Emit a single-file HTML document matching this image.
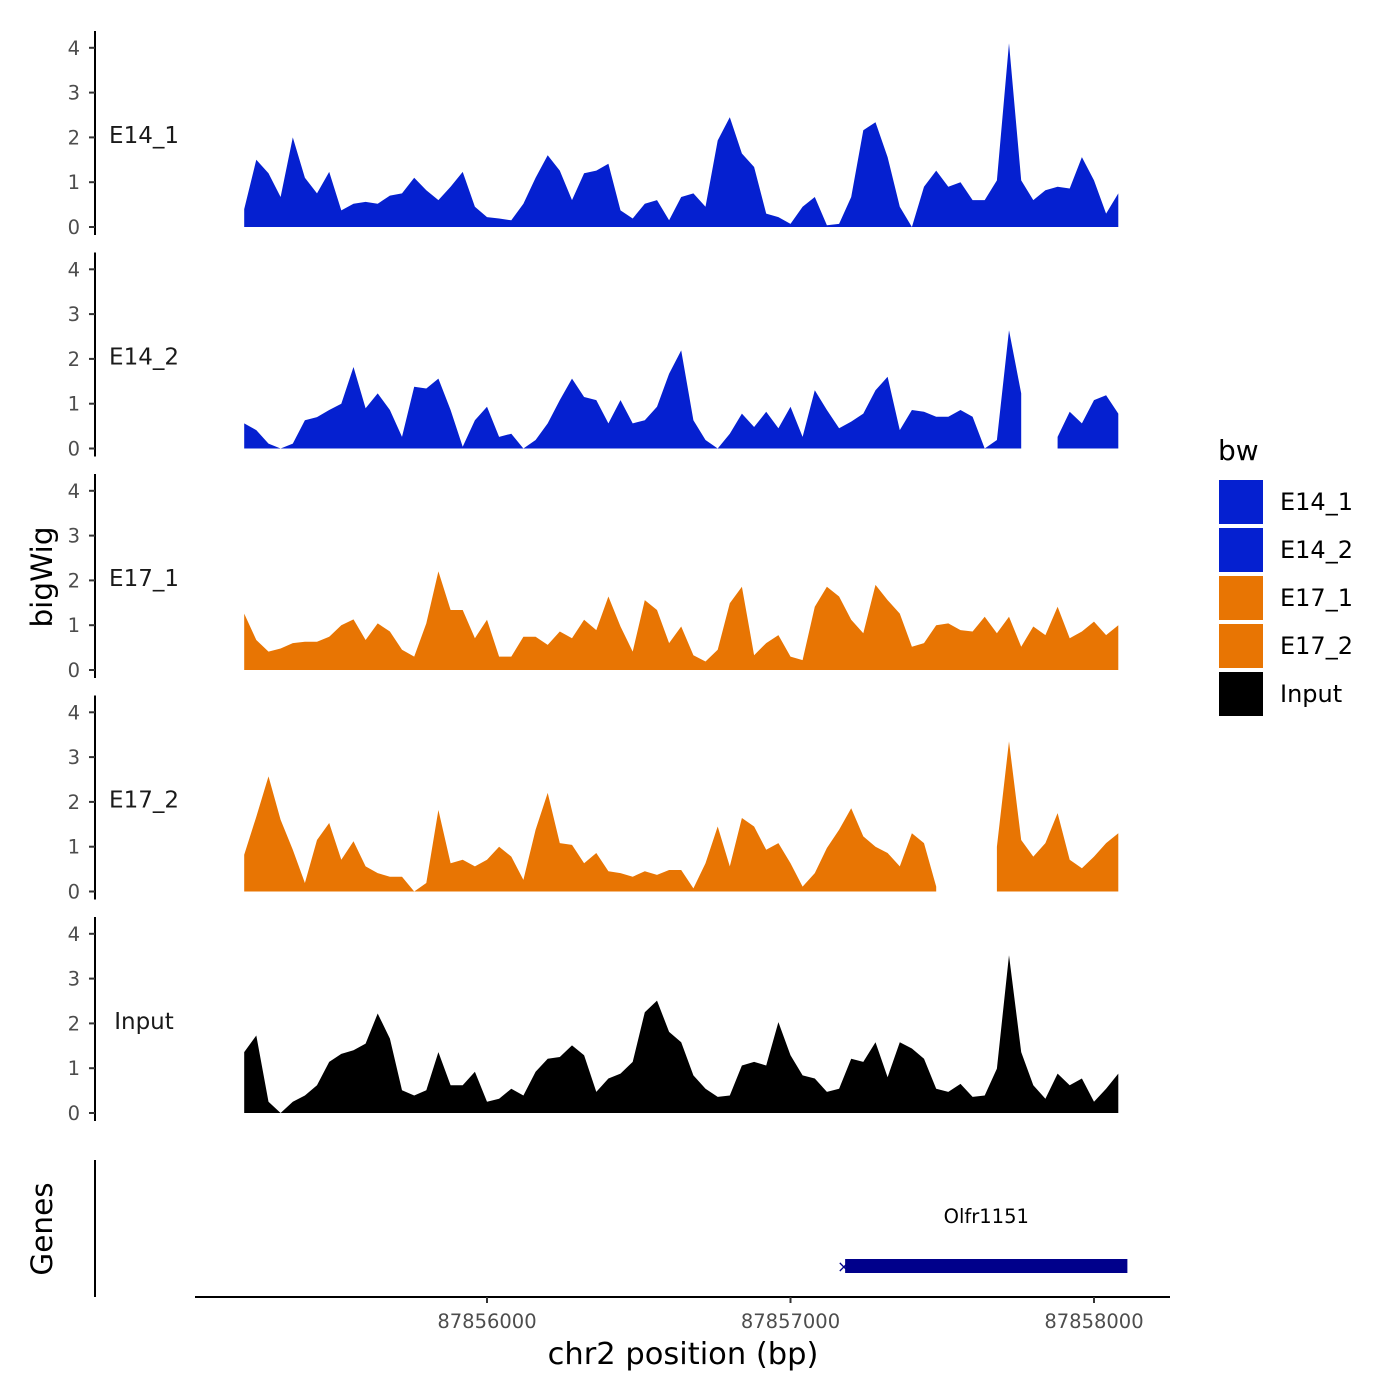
<!DOCTYPE html>
<html><head><meta charset="utf-8">
<style>
html,body{margin:0;padding:0;background:#fff;}
svg{display:block;font-family:"DejaVu Sans","Liberation Sans",sans-serif;}
</style></head>
<body>
<svg id="chart" width="1400" height="1400" viewBox="0 0 1400 1400" xmlns="http://www.w3.org/2000/svg">
<rect width="1400" height="1400" fill="#fff"/>
<g id="tracks"></g>
<text transform="translate(52,577) rotate(-90)" text-anchor="middle" font-size="29.5" fill="#000">bigWig</text>
<text transform="translate(52,1229) rotate(-90)" text-anchor="middle" font-size="29.5" fill="#000">Genes</text>
<line x1="95" y1="1160" x2="95" y2="1297" stroke="#000" stroke-width="2"/>
<g id="genes"></g>
<g id="xaxis"></g>
<text x="683" y="1364" text-anchor="middle" font-size="30.5" fill="#000">chr2 position (bp)</text>
<g id="legend">
<text x="1218" y="460" font-size="28" fill="#000">bw</text>
</g>
</svg>
<script>
const startBp = 87855200;
const stepBp = 40;
const trackNames = ["E14_1","E14_2","E17_1","E17_2","Input"];
const trackColors = ["#0520D0","#0520D0","#E87503","#E87503","#000000"];
const e14_1 = [0.4,1.5,1.2,0.67,2.0,1.1,0.75,1.23,0.37,0.52,0.56,0.52,0.7,0.75,1.1,0.82,0.6,0.9,1.23,0.45,0.22,0.19,0.15,0.52,1.1,1.6,1.26,0.6,1.2,1.26,1.41,0.37,0.19,0.52,0.6,0.15,0.67,0.75,0.45,1.93,2.45,1.64,1.34,0.3,0.22,0.07,0.45,0.67,0.04,0.07,0.67,2.16,2.34,1.56,0.45,0,0.9,1.26,0.9,1.0,0.6,0.6,1.04,4.1,1.04,0.6,0.82,0.9,0.86,1.56,1.04,0.3,0.75];
const e14_2 = [0.56,0.41,0.11,0,0.11,0.63,0.7,0.86,1.0,1.82,0.9,1.23,0.86,0.26,1.38,1.34,1.56,0.86,0.04,0.63,0.93,0.26,0.33,0,0.19,0.56,1.08,1.56,1.15,1.08,0.56,1.08,0.56,0.63,0.93,1.67,2.19,0.63,0.19,0,0.33,0.78,0.48,0.82,0.45,0.93,0.26,1.3,0.86,0.45,0.6,0.78,1.3,1.6,0.41,0.86,0.82,0.71,0.71,0.86,0.71,0,0.19,2.64,1.23,null,null,0.26,0.82,0.56,1.08,1.19,0.78];
const e17_1 = [1.26,0.67,0.41,0.48,0.6,0.63,0.63,0.74,1.0,1.13,0.67,1.04,0.86,0.45,0.3,1.04,2.2,1.34,1.34,0.71,1.12,0.3,0.3,0.74,0.74,0.56,0.86,0.71,1.12,0.89,1.64,0.97,0.41,1.56,1.34,0.6,0.97,0.33,0.19,0.45,1.49,1.86,0.33,0.6,0.78,0.3,0.22,1.41,1.86,1.64,1.12,0.82,1.9,1.56,1.26,0.52,0.6,1.0,1.04,0.89,0.86,1.19,0.82,1.19,0.52,0.97,0.78,1.41,0.71,0.86,1.08,0.78,1.0];
const e17_2 = [0.82,1.67,2.57,1.6,0.93,0.19,1.15,1.53,0.71,1.12,0.56,0.41,0.33,0.33,0,0.19,1.82,0.63,0.71,0.56,0.71,1.0,0.78,0.26,1.38,2.2,1.08,1.04,0.63,0.86,0.45,0.41,0.33,0.45,0.37,0.48,0.48,0.07,0.63,1.45,0.56,1.64,1.45,0.93,1.08,0.63,0.11,0.41,0.97,1.38,1.86,1.23,1.0,0.86,0.56,1.3,1.08,0.11,null,null,null,null,1.0,3.35,1.15,0.78,1.08,1.75,0.71,0.52,0.78,1.08,1.3];
const input = [1.36,1.73,0.25,0,0.25,0.39,0.62,1.14,1.32,1.4,1.55,2.22,1.66,0.51,0.39,0.51,1.36,0.62,0.62,0.92,0.25,0.32,0.54,0.39,0.92,1.21,1.25,1.51,1.29,0.47,0.77,0.88,1.14,2.25,2.51,1.81,1.58,0.84,0.54,0.36,0.39,1.06,1.14,1.06,2.03,1.29,0.84,0.77,0.47,0.54,1.21,1.14,1.58,0.8,1.58,1.44,1.21,0.54,0.47,0.65,0.36,0.39,0.99,3.52,1.36,0.62,0.32,0.88,0.62,0.77,0.25,0.54,0.88];
const trackValues = [e14_1,e14_2,e17_1,e17_2,input];
const yTicks = [0,1,2,3,4];
const xTicks = [87856000,87857000,87858000];
const xTickLabels = ["87856000","87857000","87858000"];
const geneStart = 87857180;
const geneEnd = 87858110;
const geneName = "Olfr1151";

const NS = "http://www.w3.org/2000/svg";
function xScale(bp){ return 487 + (bp - 87856000) * 0.3035; }
function baseY(k){ return 227 + 221.5 * k; }
function yScale(k, v){ return baseY(k) - v * 44.8; }
function mk(tag, attrs, parent){
  const el = document.createElementNS(NS, tag);
  for (const a in attrs) el.setAttribute(a, attrs[a]);
  parent.appendChild(el);
  return el;
}
const tracksG = document.getElementById('tracks');
trackValues.forEach((vals, k) => {
  const g = mk('g', {}, tracksG);
  
  
  let seg = [];
  const segs = [];
  vals.forEach((v, i) => {
    if (v === null) { if (seg.length) segs.push(seg); seg = []; }
    else seg.push([xScale(startBp + i * stepBp), yScale(k, v)]);
  });
  if (seg.length) segs.push(seg);
  segs.forEach(s => {
    const b = baseY(k);
    let d = 'M' + s[0][0].toFixed(1) + ',' + b;
    s.forEach(p => { d += 'L' + p[0].toFixed(1) + ',' + p[1].toFixed(1); });
    d += 'L' + s[s.length-1][0].toFixed(1) + ',' + b + 'Z';
    const p = mk('path', {d: d, fill: trackColors[k]}, g);
    
    
  });
  const ax = mk('line', {x1:95, y1:baseY(k)-196, x2:95, y2:baseY(k)+8, stroke:'#000', 'stroke-width':2}, g);
  
  
  yTicks.forEach(t => {
    const y = yScale(k, t);
    const tl = mk('line', {x1:89, y1:y, x2:95, y2:y, stroke:'#333', 'stroke-width':2}, g);
    
    
    const tx = mk('text', {x:80, y:y+7, 'text-anchor':'end', 'font-size':19.5, fill:'#4d4d4d'}, g);
    
    
    tx.textContent = t;
  });
  const lab = mk('text', {x:144, y:baseY(k)-84, 'text-anchor':'middle', 'font-size':23, fill:'#1a1a1a'}, g);
  
  
  lab.textContent = trackNames[k];
});
const genesG = document.getElementById('genes');
const gx1 = xScale(geneStart), gx2 = xScale(geneEnd);
const gr = mk('rect', {x:gx1, y:1259, width:gx2-gx1, height:14, fill:'#00008B'}, genesG);


const ar1 = mk('text', {x:gx1-8, y:1272, 'font-size':16, fill:'#00008B'}, genesG);


ar1.textContent = '×';
const gl = mk('text', {x:(gx1+gx2)/2, y:1223, 'text-anchor':'middle', 'font-size':19.5, fill:'#000'}, genesG);


gl.textContent = geneName;
const xa = document.getElementById('xaxis');
const xl = mk('line', {x1:195, y1:1297, x2:1170, y2:1297, stroke:'#000', 'stroke-width':2}, xa);


xTicks.forEach((t, i) => {
  const x = xScale(t);
  const tl = mk('line', {x1:x, y1:1297, x2:x, y2:1303, stroke:'#333', 'stroke-width':2}, xa);
  
  
  const tx = mk('text', {x:x, y:1328, 'text-anchor':'middle', 'font-size':19.5, fill:'#4d4d4d'}, xa);
  
  
  tx.textContent = xTickLabels[i];
});
const lg = document.getElementById('legend');
trackNames.forEach((n, i) => {
  const y = 480 + 48 * i;
  const r = mk('rect', {x:1219, y:y, width:44, height:44, fill:trackColors[i]}, lg);
  
  
  const t = mk('text', {x:1280, y:y+30, 'font-size':24, fill:'#000'}, lg);
  
  
  t.textContent = n;
});
</script>
</body></html>
